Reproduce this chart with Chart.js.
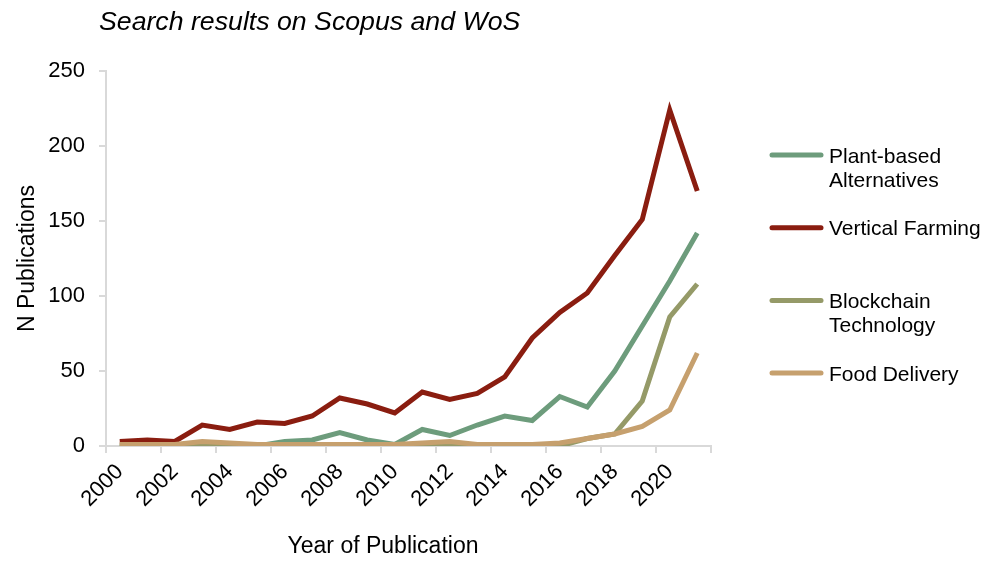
<!DOCTYPE html>
<html>
<head>
<meta charset="utf-8">
<script src="https://cdn.jsdelivr.net/npm/chart.js@4.4.1/dist/chart.umd.min.js"></script>
<style>
  html, body { margin: 0; padding: 0; background: #fff; }
  #wrap { width: 987px; height: 564px; }
</style>
</head>
<body>
<div id="wrap"><canvas id="pub_chart_canvas"></canvas></div>
<script>
var years = ["2000","2001","2002","2003","2004","2005","2006","2007","2008","2009","2010",
             "2011","2012","2013","2014","2015","2016","2017","2018","2019","2020","2021"];

var plantBased      = [0,0,0,0,0,0,3,4,9,4,1,11,7,14,20,17,33,26,50,80,110,142];
var verticalFarming = [3,4,3,14,11,16,15,20,32,28,22,36,31,35,46,72,89,102,127,151,224,170];
var blockchain      = [0,0,0,1,0,0,0,0,0,0,0,0,1,0,0,0,0,5,8,30,86,108];
var foodDelivery    = [1,1,1,3,2,1,1,1,1,1,1,2,3,1,1,1,2,5,8,13,24,62];

var yTicks = [0, 50, 100, 150, 200, 250];

var FONT = "'Liberation Sans', Arial, Helvetica, sans-serif";
Chart.defaults.font.family = FONT;
Chart.defaults.color = "#000";

// title, x title and the legend on the right drawn by hand
var extras = {
  id: "extras",
  afterDraw: function(chart) {
    var ctx = chart.ctx;
    ctx.save();
    ctx.fillStyle = "#000";
    ctx.textBaseline = "middle";

    ctx.font = "italic 26.7px " + FONT;
    ctx.textAlign = "left";
    ctx.fillText("Search results on Scopus and WoS", 99, 23);

    ctx.font = "23px " + FONT;
    ctx.textAlign = "center";
    ctx.fillText("Year of Publication", 383, 547);

    ctx.font = "21px " + FONT;
    ctx.textAlign = "left";
    var y = 155;
    chart.data.datasets.forEach(function(ds) {
      ctx.strokeStyle = ds.borderColor;
      ctx.lineWidth = 5;
      ctx.lineCap = "round";
      ctx.beginPath();
      ctx.moveTo(772, y);
      ctx.lineTo(821, y);
      ctx.stroke();
      // wrap long names
      var words = ds.label.split(" "), lines = [], cur = "";
      words.forEach(function(w) {
        var t = cur ? cur + " " + w : w;
        if (ctx.measureText(t).width > 156 && cur) { lines.push(cur); cur = w; }
        else cur = t;
      });
      lines.push(cur);
      lines.forEach(function(l, i) { ctx.fillText(l, 829, y + 2 + i * 24); });
      y += 72.7;
    });
    ctx.restore();
  }
};

const context = document.getElementById("pub_chart_canvas").getContext("2d");

const chart = new Chart(context, {
  type: "line",
  data: {
    labels: years,
    datasets: [{
      label:        "Plant-based Alternatives",
      data:         plantBased,
      borderColor:  "#6d9c7c",
      order: 3
    }, {
      label:        "Vertical Farming",
      data:         verticalFarming,
      borderColor:  "#8a1d10",
      order: 2
    }, {
      label:        "Blockchain Technology",
      data:         blockchain,
      borderColor:  "#959a68",
      order: 1
    }, {
      label:        "Food Delivery",
      data:         foodDelivery,
      borderColor:  "#c6a06e",
      order: 0
    }]
  },
  plugins: [extras],
  options: {
    responsive: true,
    maintainAspectRatio: false,
    animation: false,
    layout: { padding: { top: 71, right: 276, left: 0, bottom: 0 } },
    elements: {
      line: { borderWidth: 5, tension: 0, fill: false },
      point: { radius: 0, hoverRadius: 0 }
    },
    plugins: {
      legend: { display: false },
      title: { display: false },
      tooltip: { enabled: false }
    },
    scales: {
      x: {
        offset: true,
        grid: {
          offset: true,
          drawOnChartArea: false,
          tickLength: 7,
          lineWidth: 2,
          color: function(c) {
            return (c.index === undefined || c.index % 2 === 0) ? "#d9d9d9" : "rgba(0,0,0,0)";
          }
        },
        border: { color: "#d9d9d9", width: 2 },
        ticks: {
          autoSkip: false,
          minRotation: 45,
          maxRotation: 45,
          padding: 6,
          font: { size: 22 },
          callback: function(v, i) { return i % 2 === 0 ? years[i] : ""; }
        },
        afterFit: function(s) { s.height = 118; }
      },
      y: {
        min: 0,
        max: 250,
        afterBuildTicks: function(s) { s.ticks = yTicks.map(function(v) { return { value: v }; }); },
        grid: { drawOnChartArea: false, tickLength: 7, lineWidth: 2, color: "#d9d9d9" },
        border: { color: "#d9d9d9", width: 2 },
        ticks: { padding: 14, font: { size: 22 } },
        title: {
          display: true,
          text: "N Publications",
          font: { size: 23 },
          padding: { top: 14, bottom: 0 }
        },
        afterFit: function(s) { s.width = 106; }
      }
    }
  }
});
</script>
</body>
</html>
